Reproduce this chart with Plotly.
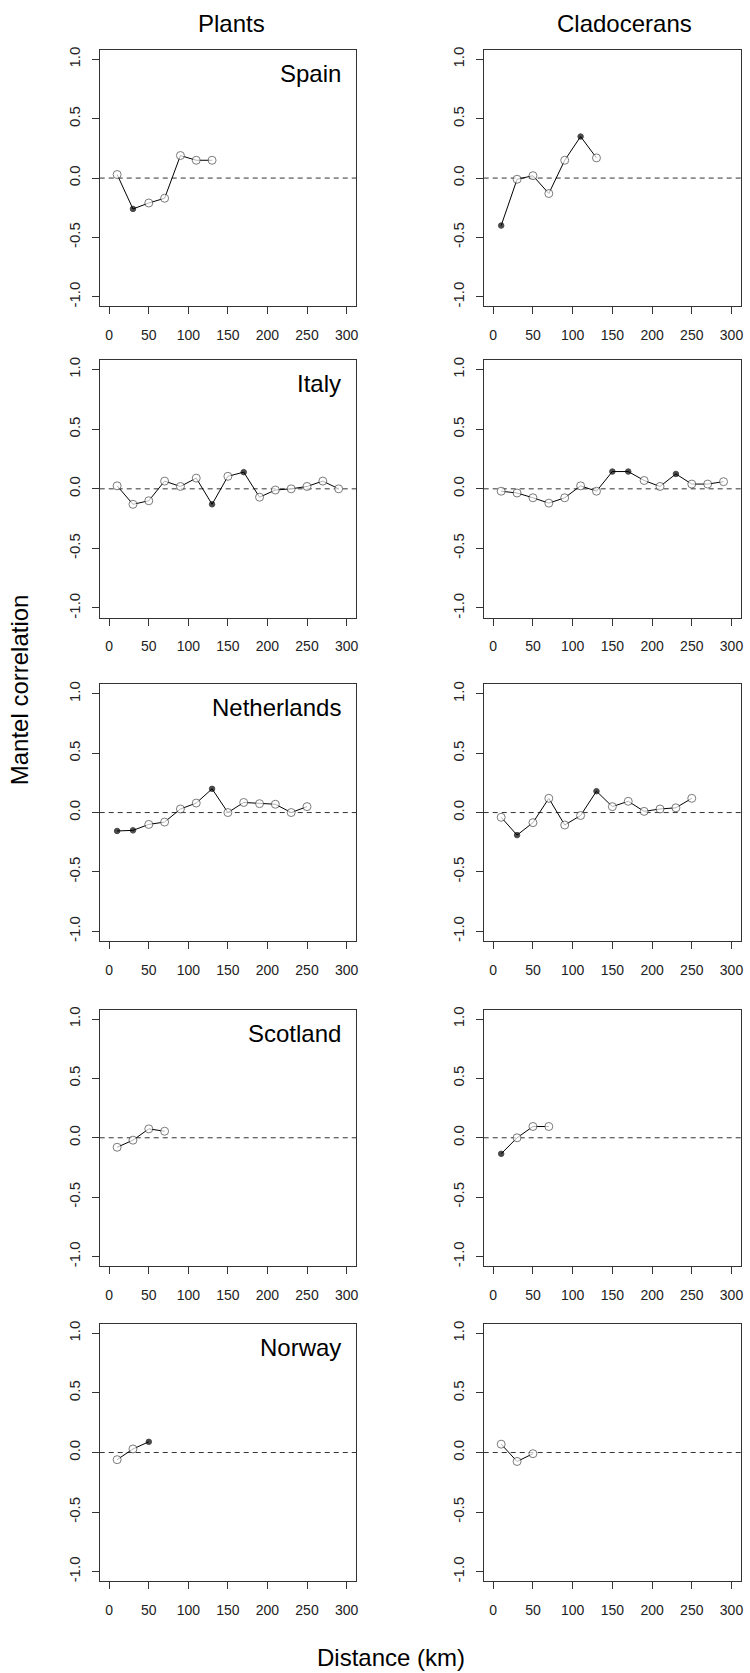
import plotly.graph_objects as go

W, H = 750, 1673

# ---------------- data ----------------
distance_classes = [10, 30, 50, 70, 90, 110, 130, 150, 170, 190, 210, 230, 250, 270, 290]
column_titles = ["Plants", "Cladocerans"]
regions = ["Spain", "Italy", "Netherlands", "Scotland", "Norway"]

x_tick_vals = [0, 50, 100, 150, 200, 250, 300]
x_tick_text = ["0", "50", "100", "150", "200", "250", "300"]
y_tick_vals = [-1.0, -0.5, 0.0, 0.5, 1.0]
y_tick_text = ["-1.0", "-0.5", "0.0", "0.5", "1.0"]

spain_plants_r = [0.03, -0.26, -0.21, -0.17, 0.19, 0.15, 0.15]
spain_plants_sig = [0, 1, 0, 0, 0, 0, 0]
spain_clado_r = [-0.40, -0.01, 0.02, -0.13, 0.15, 0.35, 0.17]
spain_clado_sig = [1, 0, 0, 0, 0, 1, 0]

italy_plants_r = [0.025, -0.13, -0.10, 0.065, 0.02, 0.09, -0.13, 0.105, 0.14, -0.07, -0.01, 0.0, 0.02, 0.065, 0.0]
italy_plants_sig = [0, 0, 0, 0, 0, 0, 1, 0, 1, 0, 0, 0, 0, 0, 0]
italy_clado_r = [-0.02, -0.035, -0.075, -0.12, -0.075, 0.025, -0.02, 0.145, 0.145, 0.07, 0.02, 0.125, 0.04, 0.04, 0.06]
italy_clado_sig = [0, 0, 0, 0, 0, 0, 0, 1, 1, 0, 0, 1, 0, 0, 0]

nl_plants_r = [-0.155, -0.15, -0.10, -0.08, 0.03, 0.08, 0.20, 0.0, 0.085, 0.075, 0.07, 0.0, 0.05]
nl_plants_sig = [1, 1, 0, 0, 0, 0, 1, 0, 0, 0, 0, 0, 0]
nl_clado_r = [-0.04, -0.19, -0.085, 0.12, -0.105, -0.025, 0.18, 0.05, 0.095, 0.01, 0.03, 0.04, 0.12]
nl_clado_sig = [0, 1, 0, 0, 0, 0, 1, 0, 0, 0, 0, 0, 0]

scot_plants_r = [-0.08, -0.02, 0.075, 0.055]
scot_plants_sig = [0, 0, 0, 0]
scot_clado_r = [-0.135, 0.0, 0.095, 0.095]
scot_clado_sig = [1, 0, 0, 0]

nor_plants_r = [-0.06, 0.03, 0.09]
nor_plants_sig = [0, 0, 1]
nor_clado_r = [0.07, -0.075, -0.01]
nor_clado_sig = [0, 0, 0]

series = [
    [(spain_plants_r, spain_plants_sig), (spain_clado_r, spain_clado_sig)],
    [(italy_plants_r, italy_plants_sig), (italy_clado_r, italy_clado_sig)],
    [(nl_plants_r, nl_plants_sig), (nl_clado_r, nl_clado_sig)],
    [(scot_plants_r, scot_plants_sig), (scot_clado_r, scot_clado_sig)],
    [(nor_plants_r, nor_plants_sig), (nor_clado_r, nor_clado_sig)],
]

# ---------------- layout geometry (pixels) ----------------
col_px = [(100, 357), (485, 743)]
row_px = [(47, 304), (358, 616), (683, 940), (1009, 1266), (1324, 1582)]

FONT = "Liberation Sans, Arial, Helvetica, sans-serif"
INK = "#222222"
BOX = "#333333"

fig = go.Figure()
layout = dict(
    width=W, height=H,
    margin=dict(l=0, r=0, t=0, b=0),
    paper_bgcolor="white", plot_bgcolor="white",
    showlegend=False,
    font=dict(family=FONT, color=INK),
    shapes=[], annotations=[],
)

k = 0
for ri, (top, bot) in enumerate(row_px):
    for ci, (left, right) in enumerate(col_px):
        k += 1
        xa = "x" if k == 1 else f"x{k}"
        ya = "y" if k == 1 else f"y{k}"
        r, sig = series[ri][ci]
        xs = distance_classes[:len(r)]
        colors = ["black" if s else "white" for s in sig]
        sizes = [5.5 if s else 8 for s in sig]
        lcolors = ["black" if s else "#444444" for s in sig]
        fig.add_trace(go.Scatter(
            x=xs, y=r, mode="lines+markers", xaxis=xa, yaxis=ya,
            line=dict(color="black", width=1),
            marker=dict(color=colors, size=sizes, symbol="circle",
                        line=dict(color=lcolors, width=1)),
            hoverinfo="x+y",
        ))
        axis_common = dict(
            showline=True, mirror=True, linecolor=BOX, linewidth=1,
            ticks="outside", ticklen=7, tickwidth=1, tickcolor=BOX,
            showgrid=False, zeroline=False,
            tickfont=dict(family=FONT, size=14, color=INK),
            tickmode="array",
        )
        layout["xaxis" + ("" if k == 1 else str(k))] = dict(
            axis_common,
            domain=[left / W, right / W],
            range=[-12, 312],
            tickvals=x_tick_vals, ticktext=x_tick_text,
            anchor=ya, ticklabelstandoff=9,
        )
        layout["yaxis" + ("" if k == 1 else str(k))] = dict(
            axis_common,
            domain=[1 - bot / H, 1 - top / H],
            range=[-1.08, 1.08],
            tickvals=y_tick_vals, ticktext=y_tick_text,
            tickangle=-90, anchor=xa, ticklabelstandoff=6,
            tickfont=dict(family=FONT, size=15, color=INK),
        )
        layout["shapes"].append(dict(
            type="line", xref=f"{xa} domain", yref=ya,
            x0=0, x1=1, y0=0, y1=0,
            line=dict(color=BOX, width=1, dash="5px,4px"), layer="below",
        ))
        if ci == 0:
            layout["annotations"].append(dict(
                text=regions[ri], xref=f"{xa} domain", yref=f"{ya} domain",
                x=0.95, y=1 - 23.5 / (bot - top), xanchor="right", yanchor="middle",
                showarrow=False, font=dict(family=FONT, size=24, color="black"),
            ))

# column titles
for title, cx in zip(column_titles, [231.7, 625.8]):
    layout["annotations"].append(dict(
        text=title, xref="paper", yref="paper", x=cx / W, y=1 - 21 / H,
        xanchor="center", yanchor="middle", showarrow=False,
        font=dict(family=FONT, size=24, color="black"),
    ))

# axis titles
layout["annotations"].append(dict(
    text="Distance (km)", xref="paper", yref="paper", x=392 / W, y=1 - 1658 / H,
    xanchor="center", yanchor="middle", showarrow=False,
    font=dict(family=FONT, size=24, color="black"),
))
layout["annotations"].append(dict(
    text="Mantel correlation", xref="paper", yref="paper", x=19 / W, y=1 - 688 / H,
    xanchor="center", yanchor="middle", showarrow=False, textangle=-90,
    font=dict(family=FONT, size=24, color="black"),
))

fig.update_layout(**layout)
fig.write_html(
    "out.html",
    config={"displayModeBar": False},
    post_script="document.body.style.margin='0';document.body.style.overflow='hidden';",
)
